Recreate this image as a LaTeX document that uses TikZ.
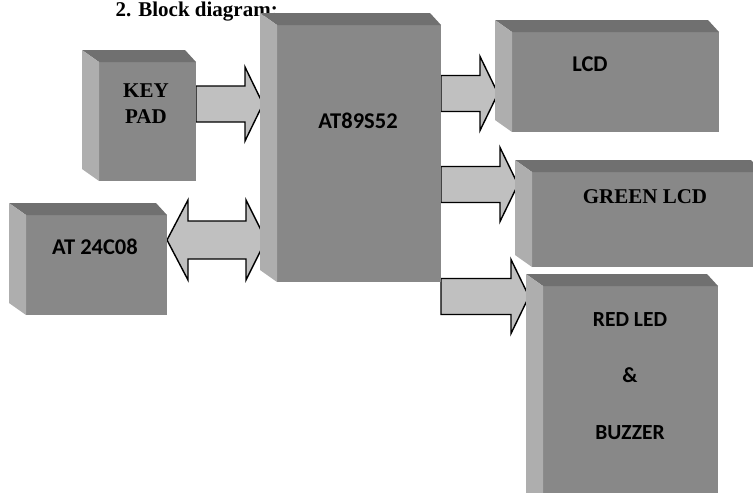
\documentclass[tikz,border=0pt]{standalone}
\usepackage{fontspec}
\setmainfont{Liberation Serif}
\newfontfamily\calfont{Carlito}
\usetikzlibrary{positioning,calc,backgrounds}
\definecolor{frontgray}{RGB}{136,136,136}
\definecolor{sidegray}{RGB}{174,174,174}
\definecolor{topgray}{RGB}{112,112,112}
\definecolor{arrowgray}{RGB}{192,192,192}
\tikzset{
  block/.style={fill=frontgray, inner sep=0pt, outer sep=0pt},
  serif/.style={font=\bfseries\fontsize{21}{26}\selectfont, align=center, inner sep=0pt},
  calib/.style={font=\calfont\bfseries\fontsize{22.5}{26}\selectfont, align=center, inner sep=0pt},
  fat/.style={draw=black, line width=1.4pt, fill=arrowgray, line join=miter}
}
% top and left faces of a block
\newcommand{\boxfaces}[1]{%
  \fill[topgray] (#1.north west) -- ++(-17,-12) -- ($(#1.north east)+(-11,-12)$) -- (#1.north east) -- cycle;
  \fill[sidegray] (#1.north west) -- ++(-17,-12) -- ($(#1.south west)+(-17,-12)$) -- (#1.south west) -- cycle;}
% block arrow: from, target, level
\newcommand{\onearrow}[3]{%
  \draw[fat] let \p1=(#1), \p2=(#2), \p3=(0,#3) in
    (\x1,\y3+18pt) -- (\x2-32pt,\y3+18pt) -- (\x2-32pt,\y3+37pt) -- (\x2-14pt,\y3)
    -- (\x2-32pt,\y3-37pt) -- (\x2-32pt,\y3-18pt) -- (\x1,\y3-18pt) -- cycle;}
\newcommand{\twoarrow}[3]{%
  \draw[fat] let \p1=(#1), \p2=(#2), \p3=(0,#3) in
    (\x1,\y3) -- (\x1+21pt,\y3+40pt) -- (\x1+21pt,\y3+19pt) -- (\x2-31pt,\y3+19pt)
    -- (\x2-31pt,\y3+40pt) -- (\x2-11pt,\y3) -- (\x2-31pt,\y3-40pt) -- (\x2-31pt,\y3-19pt)
    -- (\x1+21pt,\y3-19pt) -- (\x1+21pt,\y3-40pt) -- cycle;}

\begin{document}
\begin{tikzpicture}[x=1pt,y=-1pt]
  \path[use as bounding box] (0,0) rectangle (753,493);
  \clip (0,0) rectangle (753,493);
  \node[serif, font=\bfseries\fontsize{21}{26}\selectfont, anchor=base east] (title) at (278,16) {2. Block diagram:};

  \node[block, minimum width=97pt, minimum height=119pt] (keypad) at (147.5,121.5) {};
  \node[block, minimum width=141pt, minimum height=100pt] (at24) at (96.5,265) {};
  \node[block, minimum width=164pt, minimum height=257pt] (mcu) at (359,153.5) {};
  \node[block, minimum width=207pt, minimum height=100pt] (lcd) at (615.5,82) {};
  \node[block, minimum width=230pt, minimum height=95pt] (green) at (647,219.5) {};
  \node[block, minimum width=175pt, minimum height=219pt] (redled) at (630.5,395.5) {};
  \foreach \b in {keypad,at24,mcu,lcd,green,redled} {\boxfaces{\b}}

  \begin{scope}[on background layer]
    \onearrow{keypad.east}{mcu.west}{104}
    \twoarrow{at24.east}{mcu.west}{240}
    \onearrow{mcu.east}{lcd.west}{93.5}
    \onearrow{mcu.east}{green.west}{184.5}
    \onearrow{mcu.east}{redled.west}{296.5}
  \end{scope}

  \node[serif] (keytxt) at (146,104) {KEY\\PAD};
  \node[calib] (at24txt) at (95,247) {AT 24C08};
  \node[calib] (mcutxt) at (358,121) {AT89S52};
  \node[calib] (lcdtxt) at (590,64) {LCD};
  \node[serif] (greentxt) at (645,197) {GREEN LCD};
  \node[calib, font=\calfont\bfseries\fontsize{21.5}{56.5}\selectfont] (redtxt) at (630,376) {RED LED\\\&\\BUZZER};
\end{tikzpicture}
\end{document}
